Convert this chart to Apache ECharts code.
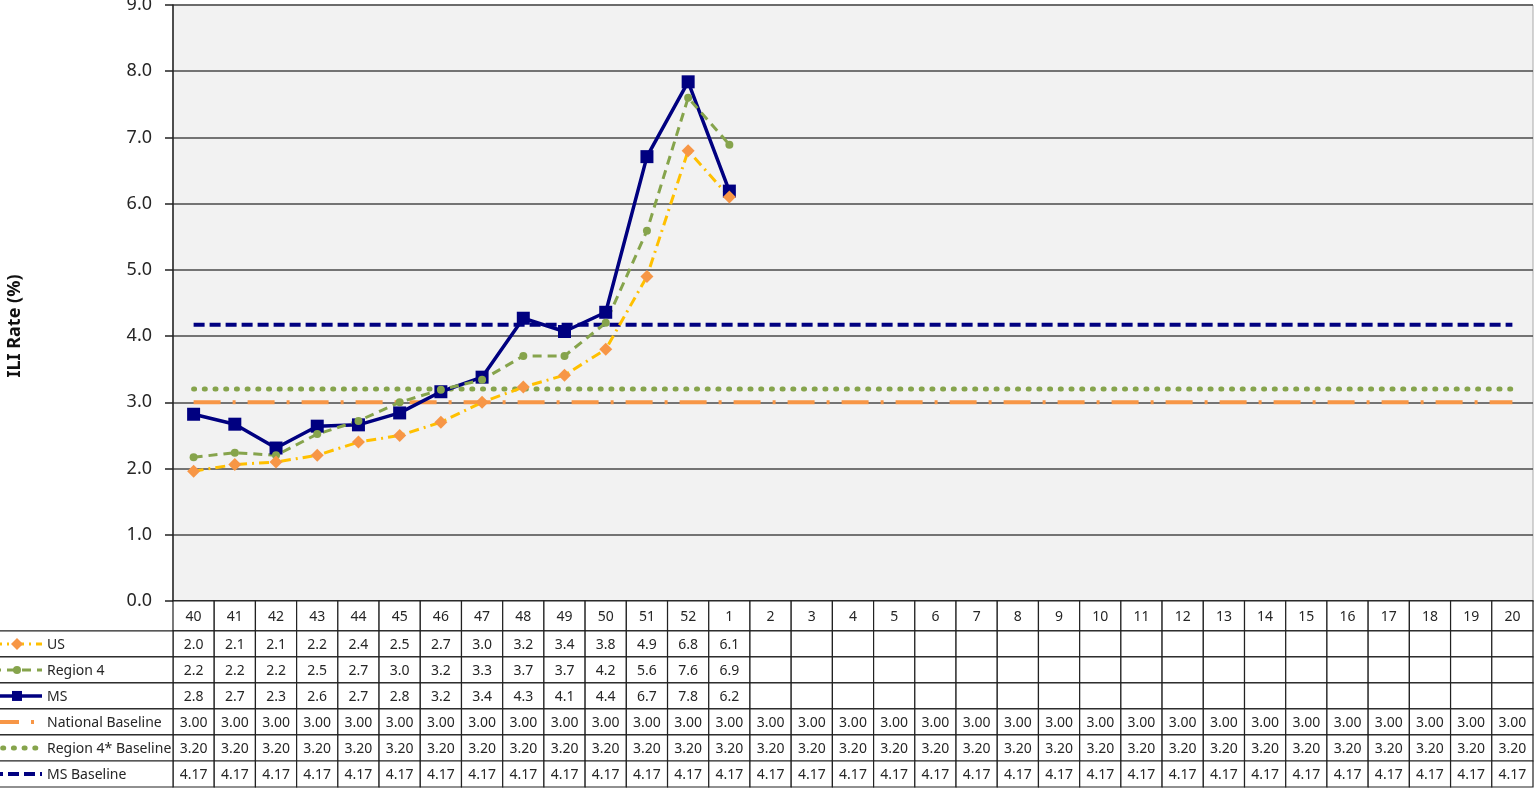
<!DOCTYPE html>
<html>
<head>
<meta charset="utf-8">
<title>ILI Rate</title>
<script src="https://cdn.jsdelivr.net/npm/echarts@6/dist/echarts.min.js"></script>
<style>
    html, body { margin: 0; padding: 0; background: #fff; }
    #chart { width: 1535px; height: 789px; }
</style>
</head>
<body>
<div id="chart"></div>
<script>
// surveillance weeks
var weeks = ['40', '41', '42', '43', '44', '45', '46', '47', '48', '49', '50', '51', '52',
    '1', '2', '3', '4', '5', '6', '7', '8', '9', '10', '11', '12', '13', '14', '15', '16', '17', '18', '19', '20']

// ILI rate (%) per week
var usData = [1.96, 2.06, 2.1, 2.2, 2.4, 2.5, 2.7, 3.0, 3.23, 3.41, 3.8, 4.9, 6.8, 6.1]
var region4Data = [2.17, 2.24, 2.2, 2.52, 2.72, 3.0, 3.19, 3.34, 3.7, 3.7, 4.2, 5.59, 7.6, 6.89]
var msData = [2.82, 2.67, 2.31, 2.64, 2.66, 2.84, 3.16, 3.38, 4.27, 4.07, 4.36, 6.71, 7.84, 6.19]

// baselines
var nationalBaseline = [3.00, 3.00, 3.00, 3.00, 3.00, 3.00, 3.00, 3.00, 3.00, 3.00, 3.00, 3.00, 3.00, 3.00, 3.00, 3.00, 3.00,
    3.00, 3.00, 3.00, 3.00, 3.00, 3.00, 3.00, 3.00, 3.00, 3.00, 3.00, 3.00, 3.00, 3.00, 3.00, 3.00]
var region4Baseline = [3.20, 3.20, 3.20, 3.20, 3.20, 3.20, 3.20, 3.20, 3.20, 3.20, 3.20, 3.20, 3.20, 3.20, 3.20, 3.20, 3.20,
    3.20, 3.20, 3.20, 3.20, 3.20, 3.20, 3.20, 3.20, 3.20, 3.20, 3.20, 3.20, 3.20, 3.20, 3.20, 3.20]
var msBaseline = [4.17, 4.17, 4.17, 4.17, 4.17, 4.17, 4.17, 4.17, 4.17, 4.17, 4.17, 4.17, 4.17, 4.17, 4.17, 4.17, 4.17,
    4.17, 4.17, 4.17, 4.17, 4.17, 4.17, 4.17, 4.17, 4.17, 4.17, 4.17, 4.17, 4.17, 4.17, 4.17, 4.17]

var FONT = '"Noto Sans", "Open Sans", sans-serif'
var TEXT_COLOR = '#262626'

// 表格行定义（顺序即表格中的行顺序）
var rows = [
    { name: 'US', data: usData, digits: 1, color: '#FFC000', marker: 'diamond', markerColor: '#F79646', dash: [10, 5, 2, 5], width: 3 },
    { name: 'Region 4', data: region4Data, digits: 1, color: '#86A44C', marker: 'circle', markerColor: '#86A44C', dash: [9, 6], width: 3 },
    { name: 'MS', data: msData, digits: 1, color: '#000080', marker: 'rect', markerColor: '#000080', dash: null, width: 3.5 },
    { name: 'National Baseline', data: nationalBaseline, digits: 2, color: '#F79646', marker: null, dash: [27, 12, 3, 12], width: 4 },
    { name: 'Region 4* Baseline', data: region4Baseline, digits: 2, color: '#86A44C', marker: null, dash: [1, 9.7], width: 5, cap: 'round' },
    { name: 'MS Baseline', data: msBaseline, digits: 2, color: '#000080', marker: null, dash: [11, 5], width: 4 }
]

// 表头行高（以行为单位）
var HEADER = 1.15

// 表格单元格：第0行为周次，其余为数值
var tableCells = []
weeks.forEach(function (w, i) {
    tableCells.push({ value: [i, 0], text: w })
})
rows.forEach(function (r, ri) {
    weeks.forEach(function (w, i) {
        var v = r.data[i]
        tableCells.push({ value: [i, ri + 1], text: v == null ? '' : v.toFixed(r.digits) })
    })
})

function rowSpan(row) {
    var top = row === 0 ? 0 : HEADER + row - 1
    return [top, HEADER + row]
}

function renderCell(params, api) {
    var cell = tableCells[params.dataIndex]
    var col = api.value(0)
    var span = rowSpan(api.value(1))
    var p0 = api.coord([col, span[0]])
    var p1 = api.coord([col, span[1]])
    var w = api.size([1, 0])[0]
    return {
        type: 'group',
        children: [{
            type: 'rect',
            shape: { x: p0[0] - w / 2, y: p0[1], width: w, height: p1[1] - p0[1] },
            style: { fill: '#fff', stroke: '#222', lineWidth: 1.2 }
        }, {
            type: 'text',
            style: {
                text: cell.text, x: p0[0], y: (p0[1] + p1[1]) / 2 + 1,
                align: 'center', verticalAlign: 'middle', textAlign: 'center', textVerticalAlign: 'middle',
                fill: TEXT_COLOR, font: '14px ' + FONT
            }
        }]
    }
}

// 左侧图例列（线型示例 + 名称）
function renderLegend(params, api) {
    var r = rows[params.dataIndex]
    var span = rowSpan(api.value(1))
    var p0 = api.coord([0, span[0]])
    var p1 = api.coord([0, span[1]])
    var left = params.coordSys.x
    var cy = (p0[1] + p1[1]) / 2
    var mx = 17
    var children = [{
        type: 'rect',
        shape: { x: -2, y: p0[1], width: left + 2, height: p1[1] - p0[1] },
        style: { fill: '#fff', stroke: '#222', lineWidth: 1.2 }
    }, {
        type: 'line',
        shape: { x1: -8, y1: cy, x2: 42, y2: cy },
        style: { stroke: r.color, lineWidth: r.width, lineDash: r.dash, lineCap: r.cap || 'butt' }
    }]
    if (r.marker === 'diamond') {
        children.push({ type: 'polygon', shape: { points: [[mx, cy - 6], [mx + 6, cy], [mx, cy + 6], [mx - 6, cy]] }, style: { fill: r.markerColor } })
    } else if (r.marker === 'circle') {
        children.push({ type: 'circle', shape: { cx: mx, cy: cy, r: 4 }, style: { fill: r.markerColor } })
    } else if (r.marker === 'rect') {
        children.push({ type: 'rect', shape: { x: mx - 5, y: cy - 5, width: 10, height: 10 }, style: { fill: r.markerColor } })
    }
    children.push({
        type: 'text',
        style: {
            text: r.name, x: 47, y: cy + 1,
            align: 'left', verticalAlign: 'middle', textAlign: 'left', textVerticalAlign: 'middle',
            fill: TEXT_COLOR, font: '14px ' + FONT
        }
    })
    return { type: 'group', children: children }
}

var chart = echarts.init(document.getElementById('chart'))

var lineSeries = rows.map(function (r) {
    return {
        name: r.name,
        type: 'line',
        xAxisIndex: 0,
        yAxisIndex: 0,
        data: r.data,
        symbol: r.marker || 'none',
        symbolSize: r.marker === 'circle' ? 8 : 13,
        itemStyle: { color: r.markerColor || r.color },
        lineStyle: { color: r.color, width: r.width, type: r.dash || 'solid', cap: r.cap || 'butt' },
        z: r.marker ? 5 : 3
    }
})
// 基线先画，折线在上
lineSeries.reverse()

var option = {
    animation: false,
    textStyle: { fontFamily: FONT },
    grid: [
        { left: 173, top: 5, width: 1360, height: 596, outerBoundsMode: 'none', containLabel: false,
            show: true, backgroundColor: '#F2F2F2', borderColor: '#aaa', borderWidth: 1 },
        { left: 173, top: 601, width: 1360, height: 186, outerBoundsMode: 'none', containLabel: false }
    ],
    xAxis: [{
        type: 'category', gridIndex: 0, data: weeks, boundaryGap: true,
        axisLine: { lineStyle: { color: '#222', width: 1.5 } },
        axisTick: { show: false }, axisLabel: { show: false }
    }, {
        type: 'category', gridIndex: 1, data: weeks, boundaryGap: true, show: false
    }],
    yAxis: [{
        type: 'value', gridIndex: 0, min: 0, max: 9, interval: 1,
        axisLine: { show: true, lineStyle: { color: '#222', width: 1.5 } },
        axisTick: { show: true, inside: false, length: 8, lineStyle: { color: '#222', width: 1.5 } },
        axisLabel: { margin: 21, fontSize: 18, color: TEXT_COLOR, formatter: function (v) { return v.toFixed(1) } },
        splitLine: { lineStyle: { color: '#4a4a4a', width: 1.5 } }
    }, {
        type: 'value', gridIndex: 1, min: 0, max: HEADER + rows.length, inverse: true, show: false
    }],
    graphic: [{
        type: 'text', x: 15, y: 326, rotation: Math.PI / 2,
        style: {
            text: 'ILI Rate (%)', align: 'center', verticalAlign: 'middle', textAlign: 'center', textVerticalAlign: 'middle',
            fill: '#111', font: 'bold 18px ' + FONT
        }
    }],
    series: lineSeries.concat([{
        type: 'custom',
        xAxisIndex: 1,
        yAxisIndex: 1,
        data: tableCells.map(function (c) { return c.value }),
        renderItem: renderCell,
        clip: false,
        silent: true
    }, {
        type: 'custom',
        xAxisIndex: 1,
        yAxisIndex: 1,
        data: rows.map(function (r, i) { return [0, i + 1] }),
        renderItem: renderLegend,
        clip: false,
        silent: true
    }])
}

chart.setOption(option)
</script>
</body>
</html>
